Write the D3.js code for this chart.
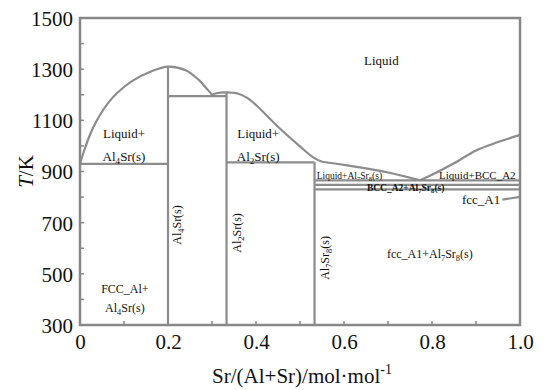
<!DOCTYPE html>
<html>
<head>
<meta charset="utf-8">
<script src="https://cdn.jsdelivr.net/npm/d3@7"></script>
<style>
  body { margin: 0; background: #fff; }
  svg text { font-family: "Liberation Serif", "DejaVu Serif", "Noto Serif", "FreeSerif", Times, serif; fill: #111; }
</style>
</head>
<body>
<svg id="chart" width="546" height="390"></svg>
<script>
// phase boundaries, [x(Sr), T(K)]
const liquidusAl4Sr = [[0, 930], [0.01, 985], [0.02, 1032], [0.03, 1072], [0.045, 1120], [0.065, 1170], [0.085, 1208], [0.12, 1255], [0.16, 1290], [0.2, 1310], [0.24, 1296], [0.27, 1258], [0.29, 1220], [0.3, 1200]];
const liquidusAl2Sr = [[0.3, 1200], [0.31, 1206], [0.333, 1209], [0.36, 1204], [0.38, 1188], [0.4, 1160], [0.45, 1075], [0.5, 998], [0.53, 955], [0.55, 938]];
const liquidusAl7Sr8 = [[0.55, 938], [0.6, 926], [0.65, 912], [0.7, 896], [0.74, 880], [0.773, 866]];
const liquidusBcc = [[0.773, 866], [0.8, 887], [0.85, 932], [0.9, 982], [0.95, 1015], [1.0, 1043]];
const fccA1Line = [[0.96, 790], [1.0, 801]];

// compound compositions and their tops
const compounds = [[0.2, 1310], [0.333, 1209], [0.533, 936]];
// invariant lines [x0, x1, T]
const isotherms = [[0, 0.2, 930], [0.2, 0.333, 1195], [0.333, 0.533, 936], [0.533, 1.0, 865], [0.533, 1.0, 848], [0.533, 1.0, 830]];

const yTicks = [300, 500, 700, 900, 1100, 1300, 1500];
const yMinor = [400, 600, 800, 1000, 1200, 1400];
const xTicks = [0, 0.2, 0.4, 0.6, 0.8, 1.0];
const xTickLabels = ["0", "0.2", "0.4", "0.6", "0.8", "1.0"];
const xMinor = [0.1, 0.3, 0.5, 0.7, 0.9];

const FONT = '"Liberation Serif", "DejaVu Serif", "Noto Serif", "FreeSerif", Times, serif';
const svg = d3.select("#chart").attr("font-family", FONT);
const MARGINS = {top: 18, right: 26, bottom: 65, left: 80};
const WIDTH = 546, HEIGHT = 390;

const x = d3.scaleLinear().domain([0, 1]).range([MARGINS.left, WIDTH - MARGINS.right]);
const y = d3.scaleLinear().domain([300, 1500]).range([HEIGHT - MARGINS.bottom, MARGINS.top]);

const lineColor = "#8c8c8c";
const line = d3.line().x(d => x(d[0])).y(d => y(d[1])).curve(d3.curveCatmullRom);
const g = svg.append("g");

// isotherms and compound lines
isotherms.forEach(d => {
    g.append("line")
        .attr("x1", x(d[0])).attr("x2", x(d[1]))
        .attr("y1", y(d[2])).attr("y2", y(d[2]))
        .attr("stroke", lineColor).attr("stroke-width", 2.2);
});
compounds.forEach(d => {
    g.append("line")
        .attr("x1", x(d[0])).attr("x2", x(d[0]))
        .attr("y1", y(300)).attr("y2", y(d[1]))
        .attr("stroke", lineColor).attr("stroke-width", 2.2);
});

// liquidus curves
[liquidusAl4Sr, liquidusAl2Sr, liquidusAl7Sr8, liquidusBcc, fccA1Line].forEach(pts => {
    g.append("path")
        .attr("d", line(pts))
        .attr("fill", "none")
        .attr("stroke", lineColor)
        .attr("stroke-width", 2.2);
});

// frame
svg.append("rect")
    .attr("x", x(0)).attr("y", y(1500))
    .attr("width", x(1) - x(0)).attr("height", y(300) - y(1500))
    .attr("fill", "none").attr("stroke", "#888").attr("stroke-width", 2.5);

// axes
const yAxis = d3.axisLeft(y).tickValues(yTicks).tickSize(0).tickPadding(7).tickFormat(d3.format("d"));
const gy = svg.append("g").attr("transform", "translate(" + x(0) + ",0)").call(yAxis);
gy.attr("font-family", FONT);
gy.select(".domain").remove();
gy.selectAll("text").style("font-size", "21px").attr("fill", "#111").attr("dy", "0.35em");

const xAxis = d3.axisBottom(x).tickValues(xTicks).tickSize(0).tickPadding(9)
    .tickFormat((d, i) => xTickLabels[i]);
const gx = svg.append("g").attr("transform", "translate(0," + y(300) + ")").call(xAxis);
gx.attr("font-family", FONT);
gx.select(".domain").remove();
gx.selectAll("text").style("font-size", "21px").attr("fill", "#111");

// small inward ticks
yTicks.concat(yMinor).forEach(t => {
    svg.append("line").attr("x1", x(0)).attr("x2", x(0) + 4)
        .attr("y1", y(t)).attr("y2", y(t)).attr("stroke", "#888").attr("stroke-width", 1.5);
});
xTicks.concat(xMinor).forEach(t => {
    svg.append("line").attr("x1", x(t)).attr("x2", x(t))
        .attr("y1", y(300)).attr("y2", y(300) - 4).attr("stroke", "#888").attr("stroke-width", 1.5);
});

// axis titles
const yTitle = svg.append("text")
    .attr("text-anchor", "middle")
    .attr("transform", "translate(33," + y(900) + ")rotate(-90)")
    .style("font-size", "21px");
yTitle.append("tspan").attr("font-style", "italic").text("T");
yTitle.append("tspan").text("/K");

const xTitle = svg.append("text")
    .attr("text-anchor", "middle")
    .attr("x", 302).attr("y", 383)
    .style("font-size", "21px");
xTitle.append("tspan").text("Sr/(Al+Sr)/mol\u00b7mol");
xTitle.append("tspan").attr("dy", "-9").style("font-size", "14px").text("-1");

// region labels: parts are [text, isSubscript]
function label(px, py, parts, size, opts) {
    opts = opts || {};
    const t = svg.append("text")
        .attr("text-anchor", opts.anchor || "middle")
        .style("font-size", size + "px")
        .attr("font-weight", opts.bold ? "bold" : null);
    if (opts.rotate) {
        t.attr("transform", "translate(" + px + "," + py + ")rotate(-90)");
    } else {
        t.attr("x", px).attr("y", py);
    }
    let shift = 0;
    const drop = Math.round(size * 0.25);
    parts.forEach(p => {
        const sp = t.append("tspan");
        if (p[1]) {
            sp.attr("dy", drop - shift).style("font-size", (size * 0.7) + "px");
            shift = drop;
        } else {
            if (shift) sp.attr("dy", -shift);
            shift = 0;
        }
        sp.text(p[0]);
    });
}

label(x(0.685), y(1315), [["Liquid"]], 13);
label(x(0.1), y(1030), [["Liquid+"]], 13);
label(x(0.1), y(942), [["Al"], ["4", 1], ["Sr(s)"]], 13);
label(x(0.405), y(1030), [["Liquid+"]], 13);
label(x(0.405), y(942), [["Al"], ["2", 1], ["Sr(s)"]], 13);
label(x(0.538), y(869), [["Liquid+Al"], ["7", 1], ["Sr"], ["8", 1], ["(s)"]], 9.5, {anchor: "start"});
label(x(0.652), y(824), [["BCC_A2+Al"], ["7", 1], ["Sr"], ["8", 1], ["(s)"]], 9.5, {anchor: "start", bold: true});
label(x(0.99), y(869), [["Liquid+BCC_A2"]], 11, {anchor: "end"});
label(x(0.955), y(772), [["fcc_A1"]], 13, {anchor: "end"});
label(x(0.795), y(560), [["fcc_A1+Al"], ["7", 1], ["Sr"], ["8", 1], ["(s)"]], 12);
label(x(0.102), y(425), [["FCC_Al+"]], 12);
label(x(0.102), y(352), [["Al"], ["4", 1], ["Sr(s)"]], 12);
label(x(0.23), y(691), [["Al"], ["4", 1], ["Sr(s)"]], 12, {rotate: true});
label(x(0.366), y(660), [["Al"], ["2", 1], ["Sr(s)"]], 12, {rotate: true});
label(x(0.566), y(562), [["Al"], ["7", 1], ["Sr"], ["8", 1], ["(s)"]], 12, {rotate: true});
</script>
</body>
</html>
